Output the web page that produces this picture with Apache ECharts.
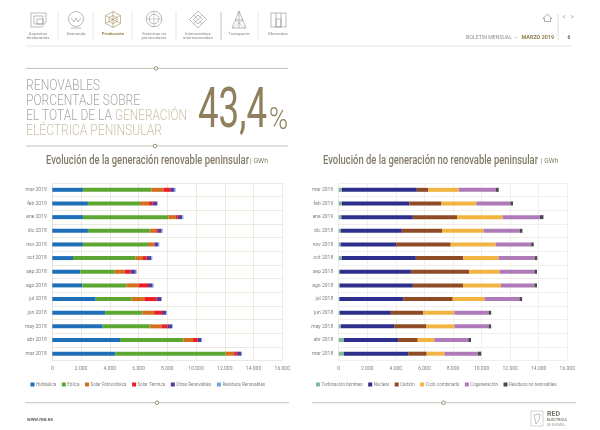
<!DOCTYPE html>
<html>
<head>
<meta charset="utf-8">
<style>html,body{margin:0;padding:0;background:#fff}#main{width:600px;height:430px}</style>
<script src="https://cdn.jsdelivr.net/npm/echarts@6/dist/echarts.min.js"></script>
</head>
<body>
<div id="main"></div>
<script>
// meses, de arriba abajo
var meses = ['mar 2019','feb 2019','ene 2019','dic 2018','nov 2018','oct 2018','sep 2018','ago 2018','jul 2018','jun 2018','may 2018','abr 2018','mar 2018'];

// renovables (GWh)
var hidraulica = [2130,2480,2130,2480,2130,1440,1950,2090,3020,3690,3500,4710,4390];
var eolica     = [4770,3620,5940,4290,4530,4340,2390,3060,2480,2570,3270,4410,7670];
var solarFoto  = [830,630,530,450,390,530,690,850,900,820,820,670,590];
var solarTerm  = [470,230,120,110,50,260,400,660,860,550,410,330,180];
var otrasRen   = [300,330,330,280,280,320,370,320,330,280,330,230,300];
var residRen   = [80,40,70,70,70,70,70,70,40,50,50,70,70];

// no renovables (GWh)
var turbinacion = [230,230,190,140,140,230,70,70,50,70,160,370,370];
var nuclear     = [5240,4720,5000,4280,3880,5170,4980,5120,4460,3580,3720,3790,4490];
var carbon      = [810,2240,3090,2810,3820,3320,4090,3510,3470,2280,2260,1370,1300];
var cicloComb   = [2120,2440,3190,2910,3140,2470,2120,2650,2230,2160,1950,1170,1240];
var cogenerac   = [2600,2390,2620,2530,2490,2530,2440,2350,2440,2400,2400,2370,2340];
var residNoRen  = [200,180,240,190,180,180,180,180,190,180,180,190,240];

var GREY = '#8a8a86', LINE = '#b8b4a8', GOLD = '#8f7f5c', TITULO = '#827c65';

function serie(name, data, color, idx){
    return {
        name: name, type: 'bar', stack: 's' + idx, data: data,
        xAxisIndex: idx, yAxisIndex: idx, barWidth: 4,
        itemStyle: {color: color}, animation: false, silent: true
    };
}
function ejeX(idx, color){
    return {
        type: 'value', gridIndex: idx, min: 0, max: 16000, interval: 2000,
        axisLine: {show: false}, axisTick: {show: false},
        axisLabel: {
            fontFamily: 'Roboto', fontSize: 5, color: '#808080', margin: 6,
            formatter: function(v){ return String(v).replace(/\B(?=(\d{3})+$)/g, '.'); }
        },
        splitLine: {show: true, lineStyle: {color: color, width: 0.8}}
    };
}
function ejeY(idx, color){
    return {
        type: 'category', gridIndex: idx, data: meses, inverse: true,
        axisLine: {show: true, lineStyle: {color: color, width: 0.8}},
        axisTick: {show: false},
        axisLabel: {fontFamily: 'Roboto', fontSize: 5, color: '#808080', margin: 5.5, interval: 0},
        splitLine: {show: true, interval: 0, lineStyle: {color: color, width: 0.8}}
    };
}
function leyenda(left, gap, names){
    return {
        left: left, top: 382, orient: 'horizontal', itemWidth: 4, itemHeight: 4, itemGap: gap,
        selectedMode: false, icon: 'rect', data: names, padding: 0, width: 280,
        textStyle: {fontFamily: 'Roboto', fontSize: 4.5, color: '#808080', padding: [0, 0, 0, -3.5]}
    };
}

// adornos de la pagina
var medidor = document.createElement('canvas').getContext('2d');
function linea(x1, y1, x2, y2, color, w){
    return {type: 'line', shape: {x1: x1, y1: y1, x2: x2, y2: y2}, style: {stroke: color, lineWidth: w || 0.8}, silent: true};
}
function texto(x, y, t, size, color, opt){
    opt = opt || {};
    var weight = opt.weight || 'normal';
    var sx = 1;
    // opt.w: ancho que debe ocupar el texto, se estrecha con scaleX (no hay fuente condensada)
    if (opt.w) {
        medidor.font = weight + ' ' + size + 'px Roboto';
        sx = opt.w / medidor.measureText(t).width;
    }
    return {
        type: 'text', x: x, y: y, scaleX: sx, silent: true,
        style: {x: 0, y: 0, text: t, fontSize: size, fill: color, fontFamily: 'Roboto', fontWeight: weight,
            align: opt.align || 'left', verticalAlign: 'middle'}
    };
}
function nudo(x, y){
    return {type: 'circle', shape: {cx: x, cy: y, r: 1.8}, style: {fill: '#fff', stroke: '#8f8468', lineWidth: 0.9}, silent: true};
}
function trazo(points, color, closed){
    return {type: closed ? 'polygon' : 'polyline', shape: {points: points}, style: {fill: 'none', stroke: color, lineWidth: 0.6}, silent: true};
}
function caja(x, y, w, h, color){
    return {type: 'rect', shape: {x: x, y: y, width: w, height: h}, style: {fill: 'none', stroke: color, lineWidth: 0.6}, silent: true};
}
function aro(x, y, r, color){
    return {type: 'circle', shape: {cx: x, cy: y, r: r}, style: {fill: 'none', stroke: color, lineWidth: 0.6}, silent: true};
}

var adornos = [];
var IC = '#8d8d88';

// iconos del menu
adornos.push(trazo([[31,13],[46,13],[46,22],[42,27],[31,27]], IC, true), caja(34, 16, 9, 8, IC), caja(37, 19, 6, 5, IC));
adornos.push(aro(76, 19, 7.5, IC), trazo([[71,18],[74,22],[76,18],[78,22],[81,18]], IC), linea(71, 28, 81, 28, IC, 0.6));
adornos.push(trazo([[113,11.5],[120.5,15.5],[120.5,23.5],[113,27.5],[105.5,23.5],[105.5,15.5]], '#a58f5f', true),
    trazo([[113,15.5],[117,17.5],[117,21.5],[113,23.5],[109,21.5],[109,17.5]], '#a58f5f', true),
    linea(105.5, 15.5, 120.5, 23.5, '#a58f5f', 0.6), linea(120.5, 15.5, 105.5, 23.5, '#a58f5f', 0.6), linea(113, 11.5, 113, 27.5, '#a58f5f', 0.6));
adornos.push(aro(154, 19, 7.8, IC), aro(154, 19, 4.8, IC), linea(146, 19, 162, 19, IC, 0.4), linea(154, 11, 154, 27, IC, 0.4));
adornos.push(trazo([[198,11],[206.5,19.5],[198,28],[189.5,19.5]], IC, true), trazo([[198,15],[202.5,19.5],[198,24],[193.5,19.5]], IC, true),
    linea(193.5, 15, 202.5, 24, IC, 0.5), linea(202.5, 15, 193.5, 24, IC, 0.5));
adornos.push(trazo([[239,11],[246,28],[232,28]], IC, true), linea(239, 11, 239, 28, IC, 0.6), linea(235, 20, 243, 20, IC, 0.6),
    linea(233, 28, 243, 20, IC, 0.4), linea(245, 28, 235, 20, IC, 0.4));
adornos.push(caja(271, 13, 15, 14, IC), linea(276, 13, 276, 27, IC, 0.6), linea(281, 13, 281, 27, IC, 0.6), caja(276, 19, 5, 8, IC));

var menu = [
    [38, ['Aspectos','destacados'], GREY],
    [76, ['Demanda'], GREY],
    [113, ['Producción'], '#9c8856'],
    [154, ['Sistemas no','peninsulares'], GREY],
    [198, ['Intercambios','internacionales'], GREY],
    [239, ['Transporte'], GREY],
    [278, ['Mercados'], GREY]
];
menu.forEach(function(m){
    if (m[1].length === 1) {
        adornos.push(texto(m[0], 33.5, m[1][0], 4.4, m[2], {align: 'center', weight: m[2] === GREY ? 'normal' : 'bold'}));
    } else {
        adornos.push(texto(m[0], 33.5, m[1][0], 4.4, m[2], {align: 'center'}));
        adornos.push(texto(m[0], 38.3, m[1][1], 4.4, m[2], {align: 'center'}));
    }
});
[58, 93, 132, 176, 221, 258].forEach(function(x){
    adornos.push(linea(x, 12, x, 40, x === 221 ? '#a8a8a4' : '#dcdcd8', 0.7));
});

// cabecera derecha
adornos.push(linea(26, 46, 571, 46, '#efeee8', 1.4));
adornos.push(trazo([[543,18.5],[547.5,14],[552,18.5],[550.5,18.5],[550.5,21.5],[544.5,21.5],[544.5,18.5]], '#777', true));
adornos.push(linea(558, 14, 558, 40, '#cfcfcb', 0.7));
adornos.push(texto(564, 17, '<', 7, '#aaa', {align: 'center'}), texto(572, 17, '>', 7, '#aaa', {align: 'center'}));
adornos.push(texto(466, 38, 'BOLETÍN MENSUAL  –', 5, '#8f8f8b', {w: 52}));
adornos.push(texto(521.6, 38, 'MARZO 2019', 5, '#8f7f4f', {weight: 'bold', w: 32.4}));
adornos.push(texto(569, 38, '6', 5, '#666', {align: 'center', weight: 'bold'}));

// bloque del porcentaje
adornos.push(linea(26, 68.4, 288, 68.4, LINE), nudo(156, 68.4));
adornos.push(linea(26, 146, 288, 146, LINE), nudo(155, 146));
var cGris = '#a8a8a2', cTan = '#cbc2aa';
adornos.push(texto(26, 86, 'RENOVABLES', 14.5, cGris, {weight: 300, w: 74}));
adornos.push(texto(26, 101, 'PORCENTAJE SOBRE', 14.5, cGris, {weight: 300, w: 114}));
adornos.push(texto(26, 116, 'EL TOTAL DE LA', 14.5, cGris, {weight: 300, w: 86}));
adornos.push(texto(115, 116, 'GENERACIÓN', 14.5, cTan, {weight: 300, w: 72}));
adornos.push(texto(26, 131, 'ELÉCTRICA PENINSULAR', 14.5, cTan, {weight: 300, w: 136}));
adornos.push(texto(198, 113, '43,4', 56, GOLD, {w: 69}));
adornos.push(texto(269, 121, '%', 32, GOLD, {weight: 300, w: 19}));

// titulos
adornos.push(texto(46, 161, 'Evolución de la generación renovable peninsular', 12.4, TITULO, {weight: 500, w: 203}));
adornos.push(texto(250, 161, '| GWh', 6.5, TITULO, {w: 18}));
adornos.push(texto(323, 161, 'Evolución de la generación no renovable peninsular', 12.4, TITULO, {weight: 500, w: 215}));
adornos.push(texto(541, 161, '| GWh', 6.5, TITULO, {w: 17}));

// pie
adornos.push(linea(25, 402.7, 289, 402.7, LINE), nudo(157, 402.7));
adornos.push(linea(312, 402.7, 576, 402.7, LINE), nudo(443.5, 402.7));
adornos.push(texto(27, 420, 'www.ree.es', 5, '#666', {weight: 'bold'}));
adornos.push(caja(531, 411, 12, 15, '#bbb'), trazo([[534,415],[540,414],[539,420],[536,424],[535,419]], '#999', true));
adornos.push(texto(547, 414.5, 'RED', 7, '#77776f', {weight: 'bold'}));
adornos.push(texto(547, 420.5, 'ELÉCTRICA', 3.8, '#88887f', {weight: 'bold'}));
adornos.push(texto(547, 424.7, 'DE ESPAÑA', 3.4, '#a0a098'));

var ren = ['Hidráulica','Eólica','Solar Fotovoltaica','Solar Térmica','Otras Renovables','Residuos Renovables'];
var noRen = ['Turbinación bombeo','Nuclear','Carbón','Ciclo combinado','Cogeneración','Residuos no renovables'];

var myChart = echarts.init(document.getElementById('main'), null, {renderer: 'canvas'});
myChart.setOption({
    backgroundColor: '#fff',
    animation: false,
    grid: [
        {left: 52.3, top: 183, width: 230, height: 177.5},
        {left: 338.7, top: 183, width: 228.6, height: 177.5}
    ],
    legend: [leyenda(30.5, 5.6, ren), leyenda(316, 5.5, noRen)],
    xAxis: [ejeX(0, '#e6e3d8'), ejeX(1, '#ecebe6')],
    yAxis: [ejeY(0, '#e6e3d8'), ejeY(1, '#ecebe6')],
    series: [
        serie(ren[0], hidraulica, '#1f6fb8', 0),
        serie(ren[1], eolica, '#5ca632', 0),
        serie(ren[2], solarFoto, '#d2701f', 0),
        serie(ren[3], solarTerm, '#ee1c25', 0),
        serie(ren[4], otrasRen, '#5f3a94', 0),
        serie(ren[5], residRen, '#6fa8dc', 0),
        serie(noRen[0], turbinacion, '#7fb89a', 1),
        serie(noRen[1], nuclear, '#2e2e8c', 1),
        serie(noRen[2], carbon, '#8f4a26', 1),
        serie(noRen[3], cicloComb, '#f2b441', 1),
        serie(noRen[4], cogenerac, '#ae7ab8', 1),
        serie(noRen[5], residNoRen, '#4a4a4a', 1)
    ],
    graphic: {elements: adornos}
});
</script>
</body>
</html>
